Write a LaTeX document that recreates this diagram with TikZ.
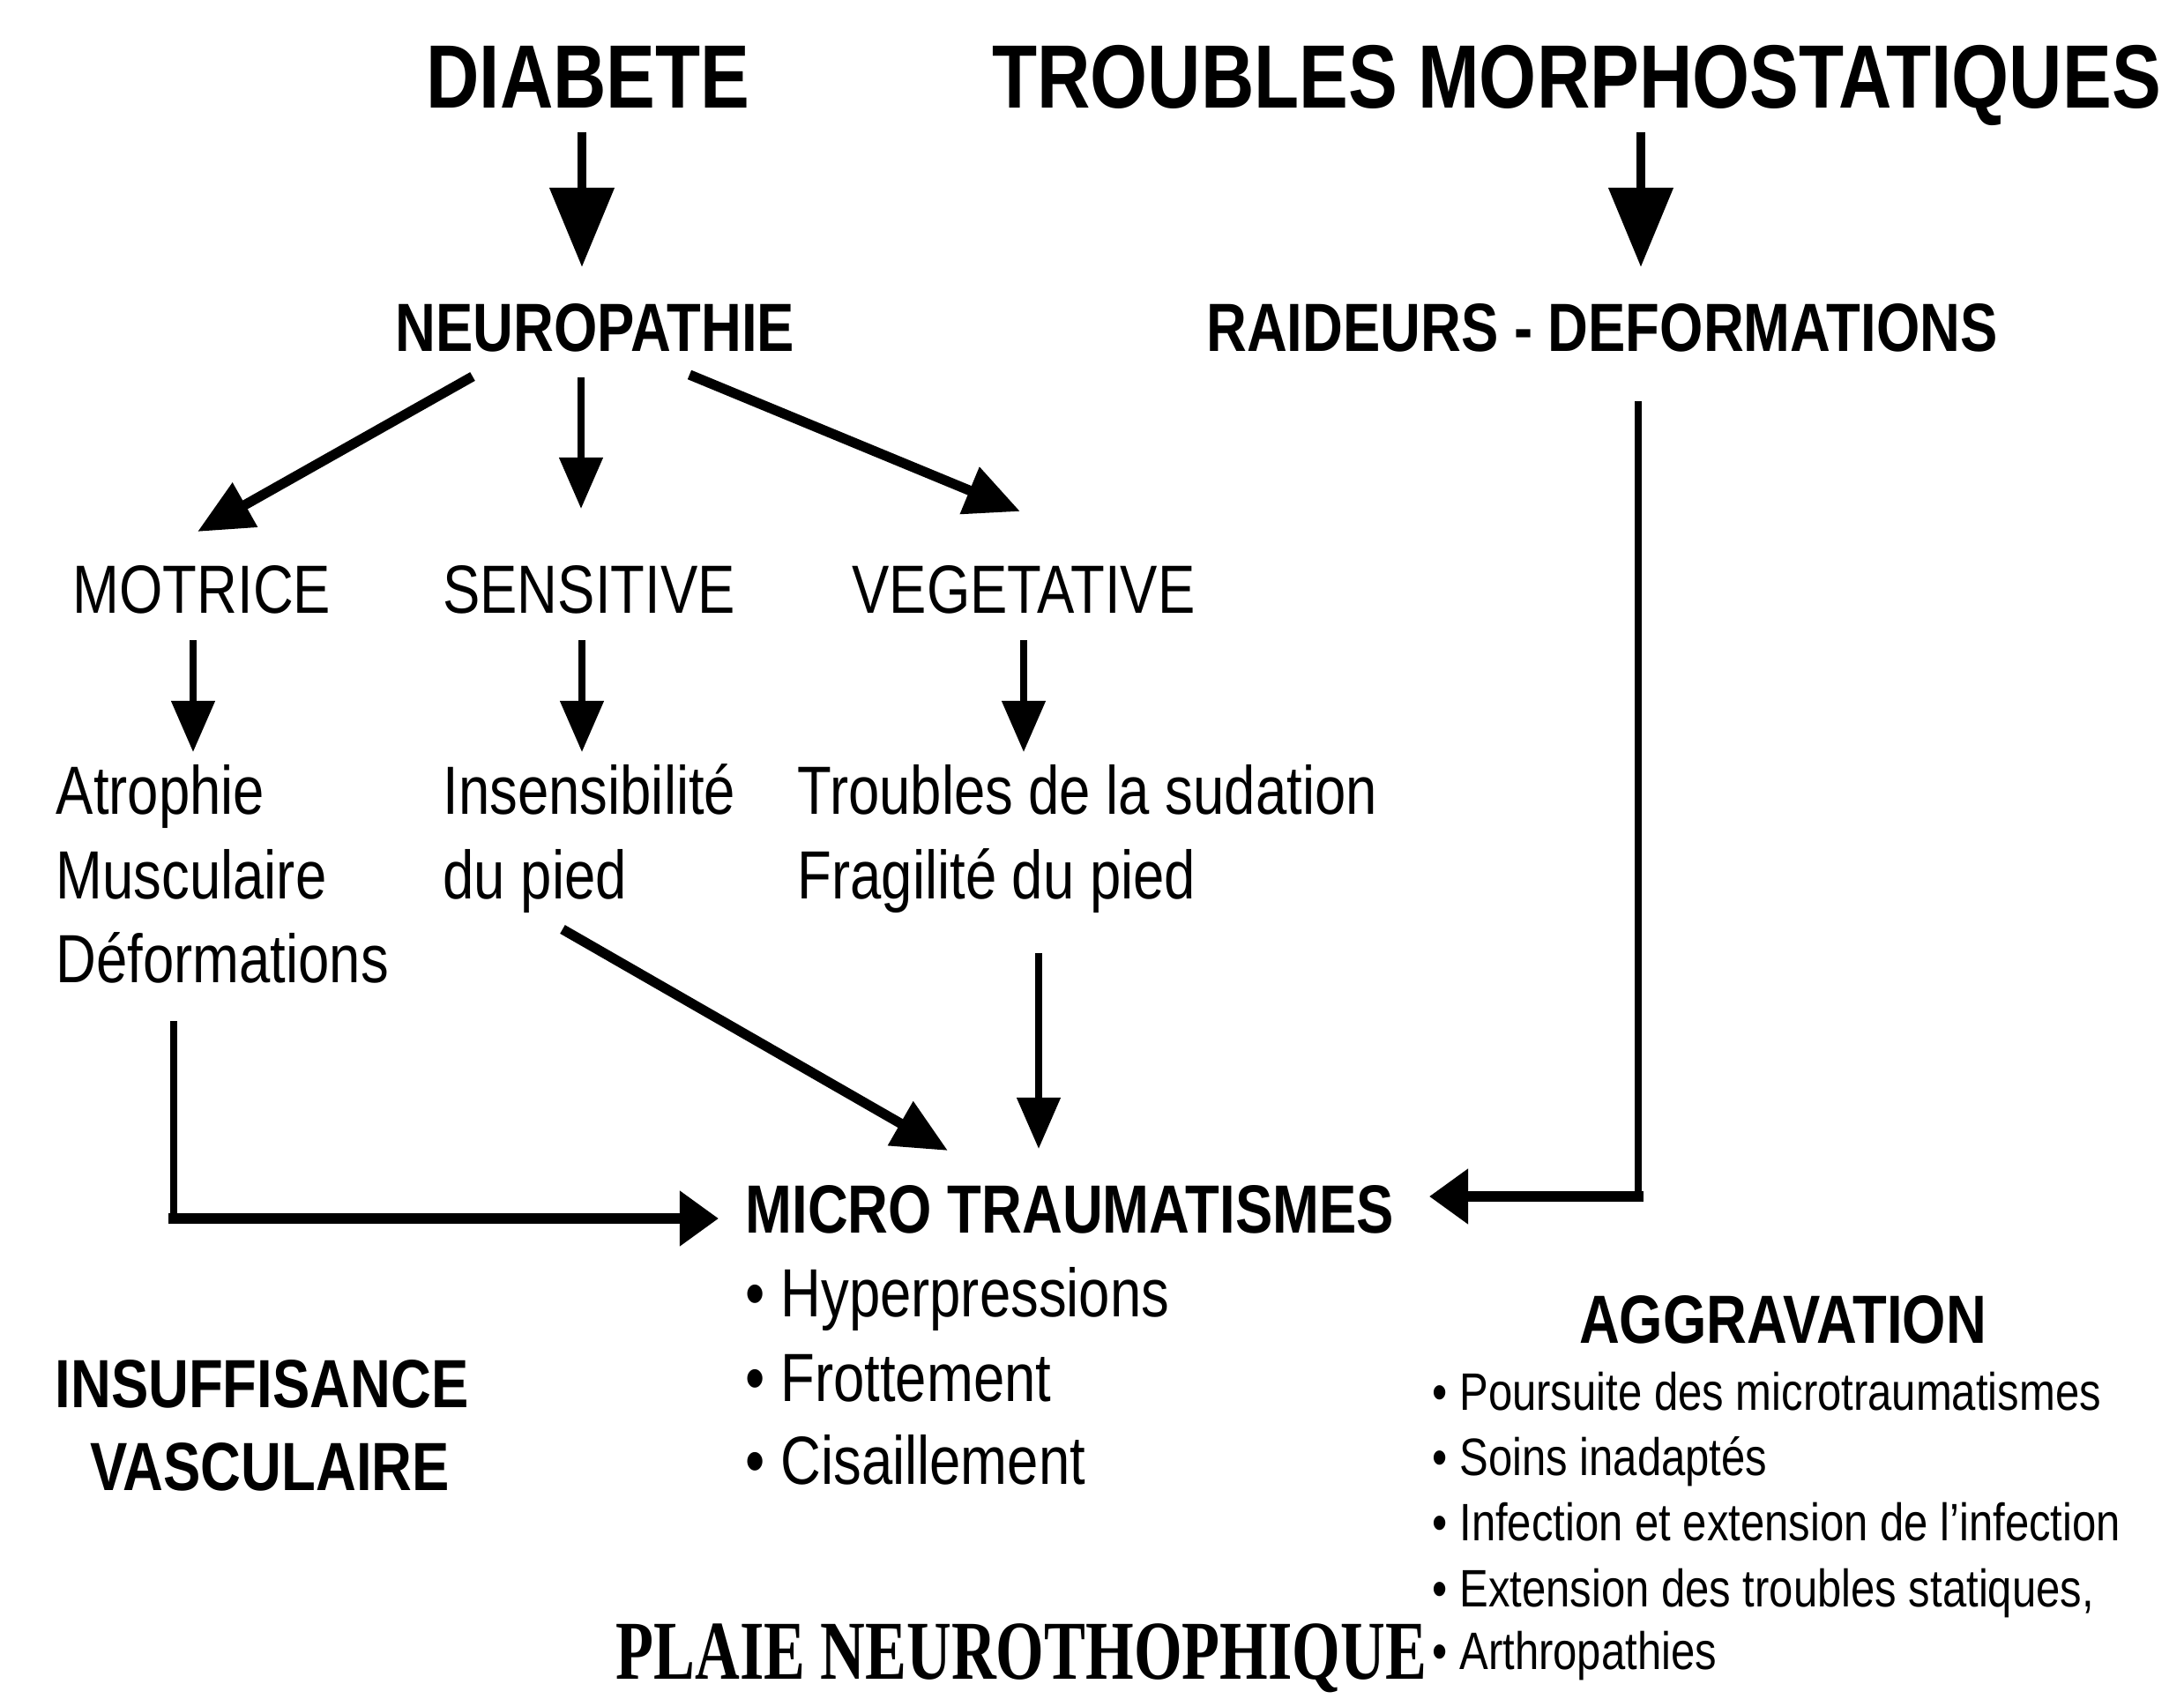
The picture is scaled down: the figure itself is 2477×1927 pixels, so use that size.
\documentclass[tikz,border=0pt]{standalone}
\usepackage{fontspec}
\setmainfont{Liberation Sans}[FakeStretch=0.82]
\newfontfamily\plaiefont{Liberation Serif}[FakeStretch=0.74]
\usepackage{tikz}
\usetikzlibrary{arrows.meta}
\tikzset{
  txt/.style = {inner sep=0pt, anchor=base},
  titre/.style = {txt, font=\fontsize{29}{35}\selectfont\bfseries},% gros titres
  entete/.style = {txt, font=\fontsize{22}{27}\selectfont\bfseries},% titres moyens
  forme/.style = {txt, font=\fontsize{22}{27}\selectfont},% formes de neuropathie
  ligne/.style = {txt, anchor=base west, font=\fontsize{22}{27}\selectfont},
  petit/.style = {txt, anchor=base west, font=\fontsize{17}{21}\selectfont},
  fl_g/.style = {-{Triangle[length=0.9cm,width=0.71cm]}, line width=3.1pt},% grosse fleche
  fl_p/.style = {-{Triangle[length=0.58cm,width=0.48cm]}, line width=2.2pt},% petite fleche
  fl_d/.style = {-{Triangle[length=0.62cm,width=0.55cm]}, line width=3.2pt},% fleche oblique
  fl_c/.style = {-{Triangle[length=0.44cm,width=0.6cm]}, line width=3.4pt, line cap=rect},% coude
  trait/.style = {line width=2.2pt}
}
\begin{document}
\begin{tikzpicture}[x=0.01cm,y=-0.01cm]
\useasboundingbox (0,0) rectangle (2477,1927);

% titres
\node [titre] (diab) at (667,123) {DIABETE};
\node [titre] (tms) at (1788,123) {TROUBLES MORPHOSTATIQUES};
\node [entete] (neuro) at (675,398) {NEUROPATHIE};
\node [entete] (raid) at (1817,398) {RAIDEURS - DEFORMATIONS};

% les trois formes
\node [forme] (mot) at (229,695) {MOTRICE};
\node [forme] (sens) at (668,695) {SENSITIVE};
\node [forme] (veg) at (1161,695) {VEGETATIVE};

\node [ligne] (atro) at (63,923) {Atrophie};
\node [ligne] (musc) at (63,1019) {Musculaire};
\node [ligne] (defo) at (63,1114) {Déformations};
\node [ligne] (insens) at (502,923) {Insensibilité};
\node [ligne] (pied) at (502,1019) {du pied};
\node [ligne] (sud) at (904,923) {Troubles de la sudation};
\node [ligne] (frag) at (904,1019) {Fragilité du pied};

% micro traumatismes
\node [entete, anchor=base west] (micro) at (845,1398) {MICRO TRAUMATISMES};
\node [ligne] (hyp) at (845,1493) {• Hyperpressions};
\node [ligne] (frot) at (845,1589) {• Frottement};
\node [ligne] (cis) at (845,1683) {• Cisaillement};

\node [entete] (insuf) at (297,1596) {INSUFFISANCE};
\node [entete] (vasc) at (306,1690) {VASCULAIRE};

% aggravation
\node [entete] (aggr) at (2022,1523) {AGGRAVATION};
\node [petit] (ag1) at (1624,1599) {• Poursuite des microtraumatismes};
\node [petit] (ag2) at (1624,1673) {• Soins inadaptés};
\node [petit] (ag3) at (1624,1747) {• Infection et extension de l’infection};
\node [petit] (ag4) at (1624,1822) {• Extension des troubles statiques,};
\node [petit] (ag5) at (1624,1893) {• Arthropathies};

\node [txt, anchor=base west, font=\plaiefont\fontsize{27}{32}\selectfont\bfseries] (plaie) at (698,1904) {PLAIE NEUROTHOPHIQUE};

% points des fleches
\coordinate (d0) at (660,150);   \coordinate (d1) at (660,303);
\coordinate (t0) at (1861,150);  \coordinate (t1) at (1861,303);
\coordinate (n0) at (536,427);   \coordinate (n1) at (224,603);
\coordinate (n2) at (659,428);   \coordinate (n3) at (659,577);
\coordinate (n4) at (782,425);   \coordinate (n5) at (1157,580);
\coordinate (m0) at (219,726);   \coordinate (m1) at (219,853);
\coordinate (s0) at (660,726);   \coordinate (s1) at (660,853);
\coordinate (v0) at (1161,726);  \coordinate (v1) at (1161,853);
\coordinate (p0) at (638,1054);  \coordinate (p1) at (1075,1305);
\coordinate (f0) at (1178,1081); \coordinate (f1) at (1178,1303);
\coordinate (g0) at (197,1158);  \coordinate (g1) at (197,1382);  \coordinate (g2) at (815,1382);
\coordinate (r0) at (1858,455);  \coordinate (r1) at (1858,1357); \coordinate (r2) at (1621,1357);

\draw [fl_g] (d0) -- (d1);
\draw [fl_g] (t0) -- (t1);
\draw [fl_d] (n0) -- (n1);
\draw [fl_p] (n2) -- (n3);
\draw [fl_d] (n4) -- (n5);
\draw [fl_p] (m0) -- (m1);
\draw [fl_p] (s0) -- (s1);
\draw [fl_p] (v0) -- (v1);
\draw [fl_d] (p0) -- (p1);
\draw [fl_p] (f0) -- (f1);
\draw [trait] (g0) -- (g1);
\draw [fl_c] (g1) -- (g2);
\draw [trait] (r0) -- (r1);
\draw [fl_c] (r1) -- (r2);
\end{tikzpicture}
\end{document}
